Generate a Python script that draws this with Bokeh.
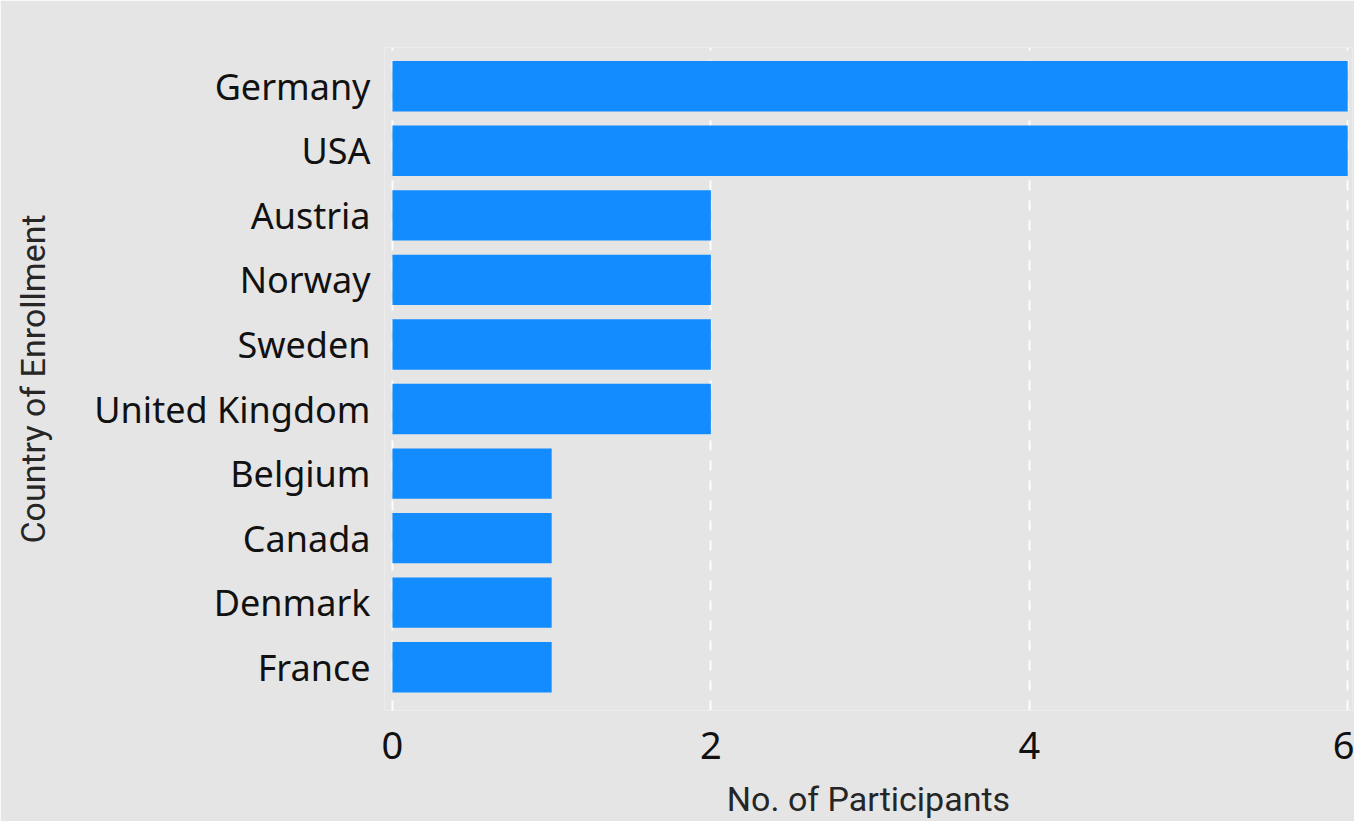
from bokeh.plotting import figure
from bokeh.models import Range1d, FixedTicker, ColumnDataSource
from bokeh.embed import file_html
from bokeh.resources import INLINE

countries = ["Germany", "USA", "Austria", "Norway", "Sweden", "United Kingdom",
             "Belgium", "Canada", "Denmark", "France"]
participants = [6, 6, 2, 2, 2, 2, 1, 1, 1, 1]
x_ticks = [0, 2, 4, 6]

n = len(countries)
ypos = [n - 1 - i for i in range(n)]
src = ColumnDataSource(dict(y=ypos, v=participants, c=countries))

BG = "#e5e5e5"
FONT = "Noto Sans"
TFONT = "Roboto"

p = figure(width=1354, height=821, output_backend="svg", toolbar_location=None,
           x_range=Range1d(-0.05, 6.03), y_range=Range1d(-0.67, n - 1 + 0.6),
           min_border_left=384, min_border_right=2, min_border_top=47, min_border_bottom=103)
p.hbar(y="y", right="v", left=0, height=0.78, source=src, color="#128cff", line_color=None)

p.background_fill_color = BG
p.border_fill_color = BG
p.outline_line_color = None

p.xaxis.ticker = FixedTicker(ticks=x_ticks)
p.yaxis.ticker = FixedTicker(ticks=ypos)
p.yaxis.major_label_overrides = {y: c for y, c in zip(ypos, countries)}

for ax in (p.xaxis, p.yaxis):
    ax.axis_line_color = None
    ax.major_tick_line_color = None
    ax.minor_tick_line_color = None
    ax.major_label_text_font = FONT
    ax.major_label_text_color = "#111111"
    ax.axis_label_text_font = TFONT
    ax.axis_label_text_font_size = "34px"
    ax.axis_label_text_font_style = "normal"
    ax.axis_label_text_color = "#262626"

p.yaxis.major_label_text_font_size = "36px"
p.yaxis.major_label_standoff = 8
p.xaxis.major_label_text_font_size = "38px"
p.xaxis.major_label_standoff = 15

p.xaxis.axis_label = "No. of Participants"
p.yaxis.axis_label = "Country of Enrollment"
p.xaxis.axis_label_standoff = 17
p.yaxis.axis_label_standoff = 38

p.ygrid.grid_line_color = None
p.xgrid.grid_line_color = "white"
p.xgrid.grid_line_width = 2
p.xgrid.grid_line_dash = "10 10"
p.xgrid.grid_line_alpha = 0.9

open("out.html", "w").write(file_html(p, INLINE))
